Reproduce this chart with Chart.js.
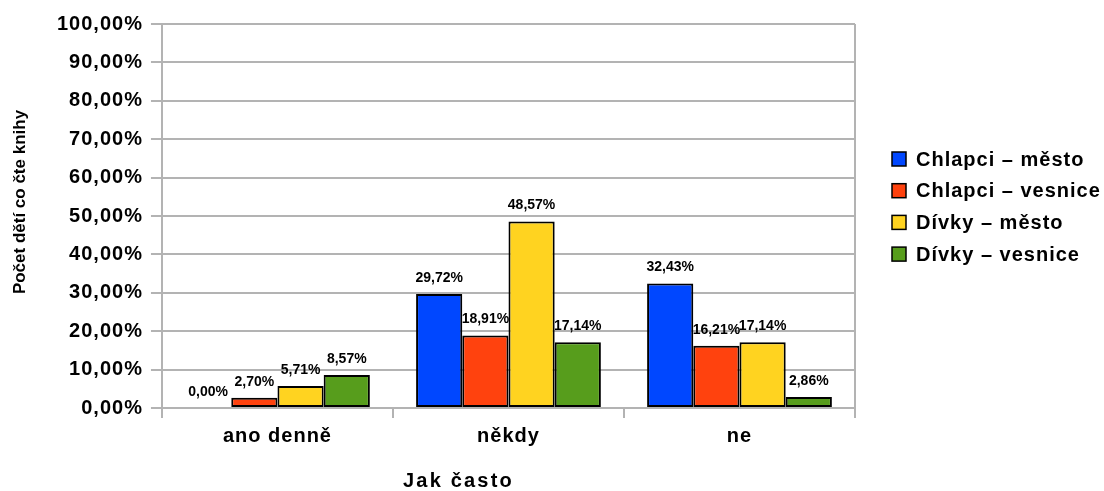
<!DOCTYPE html>
<html>
<head>
<meta charset="utf-8">
<script src="https://cdn.jsdelivr.net/npm/chart.js@4"></script>
<style>
  html, body { margin: 0; padding: 0; background: #fff; }
  #wrap { width: 1104px; height: 491px; }
</style>
</head>
<body>
<div id="wrap"><canvas id="canvas"></canvas></div>
<script>
var categories = ['ano denně', 'někdy', 'ne'];
var seriesNames = ['Chlapci – město', 'Chlapci – vesnice', 'Dívky – město', 'Dívky – vesnice'];
var chlapciMesto = [0.00, 29.72, 32.43];
var chlapciVesnice = [2.70, 18.91, 16.21];
var divkyMesto = [5.71, 48.57, 17.14];
var divkyVesnice = [8.57, 17.14, 2.86];
var seriesColors = ['#0047ff', '#ff420e', '#ffd320', '#579d1c'];
var yTicks = [0, 10, 20, 30, 40, 50, 60, 70, 80, 90, 100];
var yTitle = 'Počet dětí co čte knihy';
var xTitle = 'Jak často';

var FONT = '"Liberation Sans", Arial, sans-serif';
var GRID = '#b3b3b3';

function pct(v) {
    return v.toFixed(2).replace('.', ',') + '%';
}

// slightly spaced text like in the original office chart
var spacingPlugin = {
    id: 'spacing',
    beforeUpdate: function(chart) { chart.ctx.letterSpacing = '1px'; },
    beforeLayout: function(chart) { chart.ctx.letterSpacing = '1px'; },
    beforeDraw: function(chart) { chart.ctx.letterSpacing = '1px'; }
};

var valueLabels = {
    id: 'valueLabels',
    afterDatasetsDraw: function(chart) {
        var ctx = chart.ctx;
        ctx.save();
        ctx.letterSpacing = '0px';
        ctx.font = 'bold 14px ' + FONT;
        ctx.fillStyle = '#000';
        ctx.textAlign = 'center';
        ctx.textBaseline = 'alphabetic';
        chart.data.datasets.forEach(function(ds, i) {
            chart.getDatasetMeta(i).data.forEach(function(bar, j) {
                ctx.fillText(pct(ds.data[j]), bar.x, bar.y - 12);
            });
        });
        ctx.restore();
    }
};

// right frame line, axis titles and the legend
var extras = {
    id: 'extras',
    afterDraw: function(chart) {
        var ctx = chart.ctx;
        var a = chart.chartArea;
        ctx.save();
        ctx.strokeStyle = GRID;
        ctx.lineWidth = 2;
        ctx.beginPath();
        ctx.moveTo(a.right, a.top);
        ctx.lineTo(a.right, a.bottom);
        ctx.stroke();

        ctx.fillStyle = '#000';
        ctx.textAlign = 'center';
        ctx.textBaseline = 'middle';
        ctx.font = 'bold 20px ' + FONT;
        ctx.letterSpacing = '2.2px';
        ctx.fillText(xTitle, (a.left + a.right) / 2 - 50, 481);
        ctx.save();
        ctx.font = 'bold 17px ' + FONT;
        ctx.letterSpacing = '0px';
        ctx.translate(20, (a.top + a.bottom) / 2 - 14);
        ctx.rotate(-Math.PI / 2);
        ctx.fillText(yTitle, 0, 0);
        ctx.restore();

        ctx.font = 'bold 20px ' + FONT;
        ctx.letterSpacing = '1px';
        ctx.textAlign = 'left';
        var lx = a.right + 37;
        var ly = (a.top + a.bottom) / 2 - 57;
        chart.data.datasets.forEach(function(ds, i) {
            var y = ly + i * 31.7;
            ctx.fillStyle = ds.backgroundColor;
            ctx.fillRect(lx, y - 7, 14, 14);
            ctx.strokeStyle = '#000';
            ctx.lineWidth = 1.5;
            ctx.strokeRect(lx, y - 7, 14, 14);
            ctx.fillStyle = '#000';
            ctx.fillText(ds.label, lx + 24, y + 1);
        });
        ctx.restore();
    }
};

var seriesData = [chlapciMesto, chlapciVesnice, divkyMesto, divkyVesnice];
var datasets = seriesNames.map(function(name, i) {
    return {
        label: name,
        data: seriesData[i],
        backgroundColor: seriesColors[i],
        borderColor: '#000',
        borderWidth: 2,
        borderSkipped: false,
        categoryPercentage: 0.8,
        barPercentage: 1.0
    };
});

var ctx = document.getElementById('canvas').getContext('2d');
var myBarChart = new Chart(ctx, {
    type: 'bar',
    data: { labels: categories, datasets: datasets },
    plugins: [spacingPlugin, valueLabels, extras],
    options: {
        responsive: true,
        maintainAspectRatio: false,
        animation: false,
        layout: { padding: { left: 49, right: 249, top: 24, bottom: 37 } },
        plugins: {
            legend: { display: false },
            tooltip: { enabled: false },
            title: { display: false }
        },
        scales: {
            x: {
                grid: {
                    offset: true,
                    drawOnChartArea: false,
                    color: GRID,
                    lineWidth: 2,
                    tickLength: 10
                },
                border: { color: GRID, width: 2 },
                ticks: {
                    color: '#000',
                    padding: 6,
                    font: { family: FONT, size: 20, weight: 'bold' }
                }
            },
            y: {
                min: 0,
                max: 100,
                afterBuildTicks: function(axis) {
                    axis.ticks = yTicks.map(function(v) { return { value: v }; });
                },
                grid: { color: GRID, lineWidth: 2, tickLength: 11 },
                border: { color: GRID, width: 2 },
                ticks: {
                    color: '#000',
                    padding: 8,
                    font: { family: FONT, size: 20, weight: 'bold' },
                    callback: function(v) { return pct(v); }
                }
            }
        }
    }
});
</script>
</body>
</html>
